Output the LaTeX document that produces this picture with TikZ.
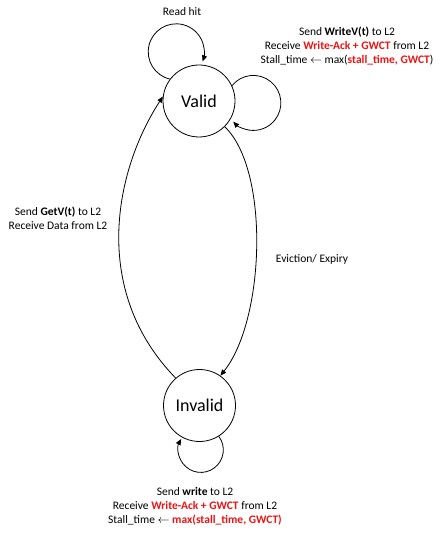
\documentclass[tikz,border=0pt]{standalone}
\usepackage{fontspec}
\setmainfont{Carlito}
\usetikzlibrary{arrows.meta}
\definecolor{hotred}{RGB}{235,20,20}
\newcommand{\rb}[1]{\textcolor{hotred}{\textbf{#1}}}
\begin{document}
\begin{tikzpicture}[x=1pt,y=-1pt,
  state/.style={draw,circle,line width=0.8pt,minimum size=72pt,inner sep=0pt,font=\fontsize{18}{20}\selectfont},
  lbl/.style={align=center,inner sep=0pt,font=\fontsize{11.5}{14}\selectfont},
  conn/.style={line width=0.8pt,-{Triangle[length=6pt,width=5pt]}}]
\useasboundingbox[fill=white] (0,0) rectangle (444,534);
\node[state] (valid) at (199,101) {Valid};
\node[state] (invalid) at (199.5,405.5) {Invalid};
\node[lbl] (readhit) at (182,12) {Read hit};
\node[lbl] (wlbl) at (347,46) {Send \textbf{WriteV(t)} to L2\\Receive \rb{Write-Ack + GWCT} from L2\\Stall\_time $\leftarrow$ max(\rb{stall\_time, GWCT})};
\node[lbl] (glbl) at (58,218) {Send \textbf{GetV(t)} to L2\\Receive Data from L2};
\node[lbl] (elbl) at (312,259) {Eviction/ Expiry};
\node[lbl] (ilbl) at (195,506) {Send \textbf{write} to L2\\Receive \rb{Write-Ack + GWCT} from L2\\Stall\_time $\leftarrow$ \rb{max(stall\_time, GWCT)}};
% self loops
\draw[conn] (valid.143) arc[start angle=103, end angle=380, radius=28];
\draw[conn] (valid.25) arc[start angle=219, end angle=497, radius=27.5];
\draw[conn] (invalid.-58) arc[start angle=323, end angle=569, radius=22.5];
% transitions
\draw[conn] (invalid.131) .. controls (90,290) and (115,170) .. (valid.173);
\draw[conn] (valid.-45) .. controls (270,170) and (265,320) .. (invalid.55);
\end{tikzpicture}
\end{document}
